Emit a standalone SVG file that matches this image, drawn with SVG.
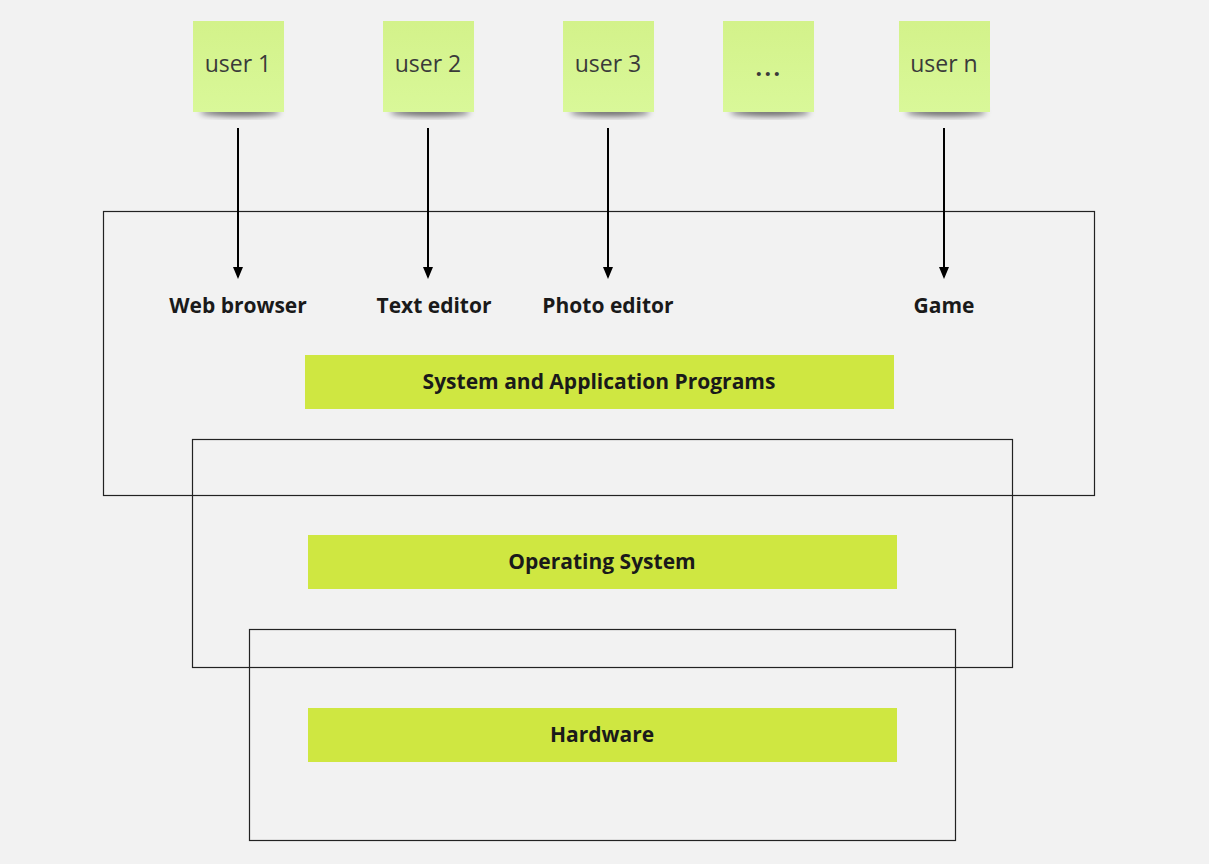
<svg xmlns="http://www.w3.org/2000/svg" width="1209" height="864" viewBox="0 0 1209 864">
<style>
.sticky{fill:url(#sg)}
.st{font-family:"Open Sans","Liberation Sans",sans-serif;font-size:23px;fill:#3a3a3a;text-anchor:middle}
.lbl{font-family:"Open Sans","Liberation Sans",sans-serif;font-size:21px;font-weight:bold;fill:#1a1a1a;text-anchor:middle}
.bar{fill:#cfe741}
.frame{fill:none;stroke:#222;stroke-width:1.2}
.conn{stroke:#000;stroke-width:2;fill:none;marker-end:url(#ah)}
.shd{fill:#000;opacity:0.6}
</style>
<defs>
<linearGradient id="sg" x1="0" y1="0" x2="0" y2="1">
<stop offset="0" stop-color="#d3f28a"/>
<stop offset="1" stop-color="#d9f899"/>
</linearGradient>
<filter id="sh" x="-20%" y="-50%" width="140%" height="200%">
<feGaussianBlur stdDeviation="3"/>
</filter>
<marker id="ah" markerWidth="12" markerHeight="12" refX="10" refY="5" orient="auto" markerUnits="userSpaceOnUse" viewBox="0 0 12 10">
<path d="M0,0 L12,5 L0,10 z" fill="#000"/>
</marker>
</defs>
<rect width="1209" height="864" fill="#f2f2f2"/>

<g id="frames">
<rect class="frame" x="103.5" y="211.5" width="991" height="284"/>
<rect class="frame" x="192.5" y="439.5" width="820" height="228"/>
<rect class="frame" x="249.5" y="629.5" width="706" height="211"/>
</g>

<g id="user1"><ellipse class="shd" cx="240" cy="112" rx="40" ry="4" filter="url(#sh)"/><rect class="sticky" x="193" y="21" width="91" height="91"/><text class="st" x="238" y="72">user 1</text></g>
<g id="user2"><ellipse class="shd" cx="430" cy="112" rx="40" ry="4" filter="url(#sh)"/><rect class="sticky" x="383" y="21" width="91" height="91"/><text class="st" x="428" y="72">user 2</text></g>
<g id="user3"><ellipse class="shd" cx="610" cy="112" rx="40" ry="4" filter="url(#sh)"/><rect class="sticky" x="563" y="21" width="91" height="91"/><text class="st" x="608" y="72">user 3</text></g>
<g id="userdots"><ellipse class="shd" cx="770" cy="112" rx="40" ry="4" filter="url(#sh)"/><rect class="sticky" x="723" y="21" width="91" height="91"/><text class="st" x="769" y="76" font-weight="bold" letter-spacing="2.5">...</text></g>
<g id="usern"><ellipse class="shd" cx="946" cy="112" rx="40" ry="4" filter="url(#sh)"/><rect class="sticky" x="899" y="21" width="91" height="91"/><text class="st" x="944" y="72">user n</text></g>

<g id="connectors">
<line class="conn" x1="238" y1="128" x2="238" y2="277"/>
<line class="conn" x1="428" y1="128" x2="428" y2="277"/>
<line class="conn" x1="608" y1="128" x2="608" y2="277"/>
<line class="conn" x1="944" y1="128" x2="944" y2="277"/>
</g>

<g id="web"><text class="lbl" x="238" y="313">Web browser</text></g>
<g id="text"><text class="lbl" x="434" y="313">Text editor</text></g>
<g id="photo"><text class="lbl" x="608" y="313">Photo editor</text></g>
<g id="game"><text class="lbl" x="944" y="313">Game</text></g>

<g id="sap"><rect class="bar" x="305" y="355" width="589" height="54"/><text class="lbl" x="599" y="389">System and Application Programs</text></g>
<g id="os"><rect class="bar" x="308" y="535" width="589" height="54"/><text class="lbl" x="602" y="569">Operating System</text></g>
<g id="hw"><rect class="bar" x="308" y="708" width="589" height="54"/><text class="lbl" x="602" y="742">Hardware</text></g>
</svg>
